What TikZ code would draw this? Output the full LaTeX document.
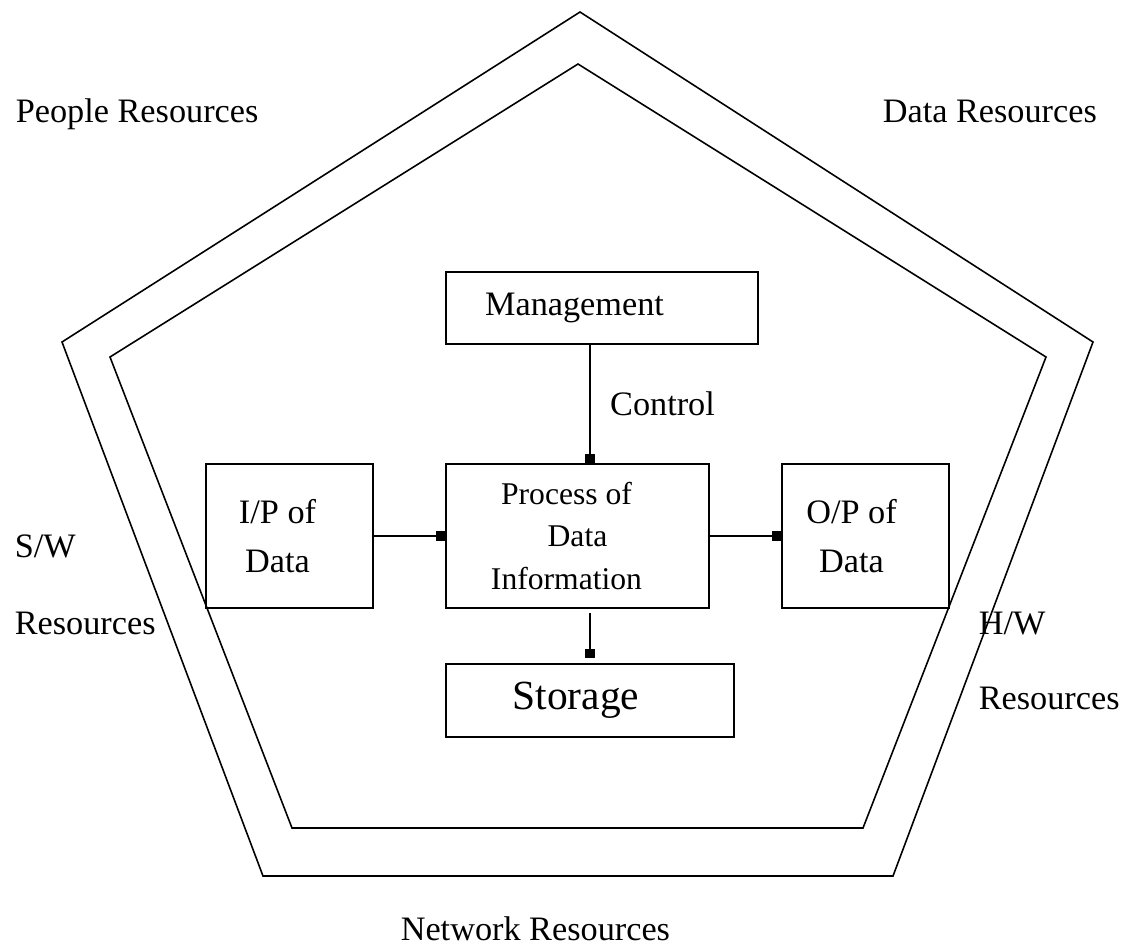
\documentclass[tikz,border=0pt]{standalone}
\usepackage{fontspec}
\setmainfont{Liberation Serif}
\usetikzlibrary{arrows.meta, positioning}
\tikzset{%
	every box/.style={
		draw,
		line width=0.9pt,
		align=center,
		font=\fontsize{19.5}{27.9}\selectfont
	},
	box side/.style={
		every box,
		minimum width=3.34cm,
		minimum height=2.88cm
	},
	resource/.style={
		anchor=base west,
		inner sep=0pt,
		font=\fontsize{19.5}{24}\selectfont
	},
}

\begin{document}
\begin{tikzpicture}[x=0.02cm, y=-0.02cm, >={Square[length=5.5pt,width=5.5pt]}, line width=0.9pt]
			\useasboundingbox (0,0) rectangle (1121,947);
			
			% the two pentagons
			\draw (580,12) -- (1093,342) -- (893,876) -- (263,876) -- (62,342) -- cycle;
			\draw (578,64) -- (1046,357) -- (863,828) -- (292,828) -- (110,357) -- cycle;
			
			% text sits a little left of each box centre
			\node [every box, minimum width=6.24cm, minimum height=1.44cm] (management) at (602,308) {Management\hspace*{1.1cm}};
			\node [box side] (input) at (289.5,536) {I/P of\hspace*{0.48cm}\\Data\hspace*{0.48cm}};
			\node [every box, minimum width=5.26cm, minimum height=2.88cm,
				font=\fontsize{18}{24.1}\selectfont] (process) at (577.5,536) {Process of\hspace*{0.44cm}\\Data\hspace*{0.44cm}\\Information\hspace*{0.44cm}};
			\node [box side] (output) at (865.5,536) {O/P of\hspace*{0.56cm}\\Data\hspace*{0.56cm}};
			\node [every box, minimum width=5.76cm, minimum height=1.46cm,
				font=\fontsize{23.6}{28}\selectfont] (storage) at (590,700.5) {Storage\hspace*{0.56cm}};
			
			\draw [->, line width=1.3pt] (management.south -| storage.north) -- (process.north -| storage.north)
			node [midway, right, inner sep=0pt, xshift=0.38cm, font=\fontsize{19.5}{24}\selectfont] {Control};
			\draw [->] (input) -- (process);
			\draw [->] (process) -- (output);
			\draw [->, line width=1.3pt, shorten <=0.08cm, shorten >=0.1cm] (process.south -| storage.north) -- (storage.north);
			
			\node [resource] (people) at (15,122) {People Resources};
			\node [resource] (data) at (882,122) {Data Resources};
			\node [resource] (sw) at (14,557) {S/W};
			\node [resource] (sw-res) at (14,634) {Resources};
			\node [resource] (hw) at (978,634) {H/W};
			\node [resource] (hw-res) at (978,709) {Resources};
			\node [resource] (network) at (400,940) {Network Resources};
			
		\end{tikzpicture}
\end{document}
